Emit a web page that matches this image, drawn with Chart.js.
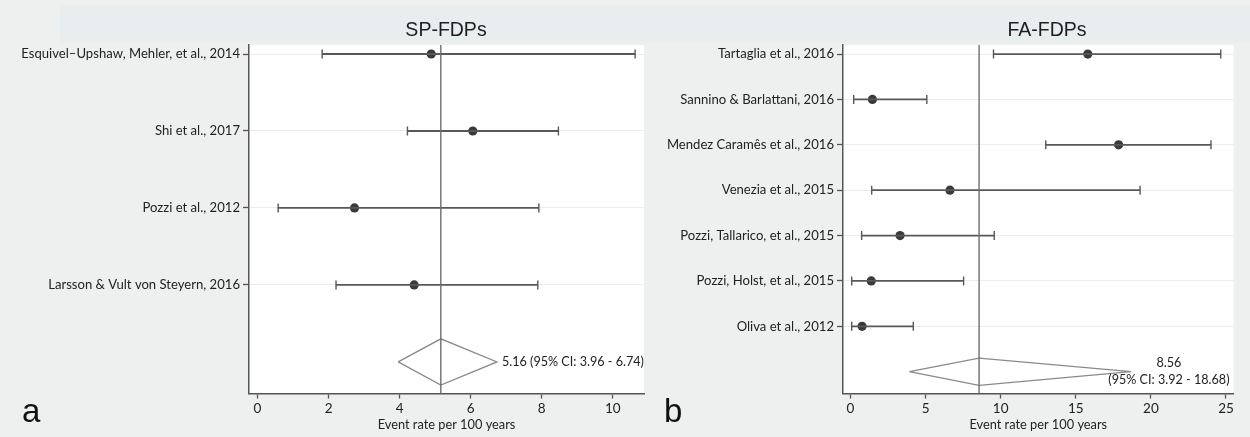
<!DOCTYPE html>
<html>
<head>
<meta charset="utf-8">
<script src="https://cdn.jsdelivr.net/npm/chart.js@4.4.1/dist/chart.umd.min.js"></script>
<style>
	body { margin: 0; background: #eeefef; width: 1250px; height: 437px; overflow: hidden; position: relative; }
	#band { position: absolute; left: 60px; top: 5px; width: 1190px; height: 37px; background: #e8eeef; }
	canvas { position: absolute; top: 0; }
	#sp { left: 0; }
	#fa { left: 650px; }
</style>
</head>
<body>
<div id="band"></div>
<canvas id="sp" width="650" height="437"></canvas>
<canvas id="fa" width="600" height="437"></canvas>
<script>
// panel a: SP-FDPs
const spStudies = [
	"Esquivel\u2013Upshaw, Mehler, et al., 2014",
	"Shi et al., 2017",
	"Pozzi et al., 2012",
	"Larsson & Vult von Steyern, 2016",
];
const spEst = [4.89, 6.06, 2.73, 4.41];
const spLo = [1.82, 4.22, 0.58, 2.21];
const spHi = [10.63, 8.47, 7.92, 7.89];
const spPooled = [5.16, 3.96, 6.74];
const spPooledText = ["5.16 (95% CI: 3.96 - 6.74)"];
const spTicks = [0, 2, 4, 6, 8, 10];

// panel b: FA-FDPs
const faStudies = [
	"Tartaglia et al., 2016",
	"Sannino & Barlattani, 2016",
	"Mendez Caram\u00eas et al., 2016",
	"Venezia et al., 2015",
	"Pozzi, Tallarico, et al., 2015",
	"Pozzi, Holst, et al., 2015",
	"Oliva et al., 2012",
];
const faEst = [15.8, 1.46, 17.85, 6.62, 3.3, 1.38, 0.77];
const faLo = [9.52, 0.21, 13.0, 1.41, 0.74, 0.08, 0.08];
const faHi = [24.65, 5.08, 24.0, 19.28, 9.57, 7.53, 4.18];
const faPooled = [8.56, 3.92, 18.68];
const faPooledText = ["8.56", "(95% CI: 3.92 - 18.68)"];
const faTicks = [0, 5, 10, 15, 20, 25];

const fontFamily = "Lato, 'Open Sans', sans-serif";
const labelFont = { family: fontFamily, size: 13.1 };

function makePanel(id, p) {
	const n = p.studies.length;
	const poolRow = n + 1;
	const [pe, pl, ph] = p.pooled;
	const datasets = [];

	// reference line at the pooled estimate
	datasets.push({
		data: [{ x: pe, y: p.yMin }, { x: pe, y: p.yMax }],
		showLine: true, borderColor: "#6e6e6e", borderWidth: 1.4, pointRadius: 0,
	});

	// confidence intervals with end caps
	p.studies.forEach((s, i) => {
		datasets.push({
			data: [{ x: p.lo[i], y: i + 1 }, { x: p.hi[i], y: i + 1 }],
			showLine: true,
			borderColor: "#585858",
			borderWidth: 1.8,
			pointStyle: "line",
			pointRotation: 90,
			pointRadius: 4.5,
			pointBorderColor: "#585858",
			pointBorderWidth: 1.4,
		});
	});

	// study estimates
	datasets.push({
		data: p.est.map((v, i) => ({ x: v, y: i + 1 })),
		pointRadius: 4.6,
		pointBackgroundColor: "#3a3a3a",
		pointBorderWidth: 0,
	});

	// pooled diamond
	datasets.push({
		data: [
			{ x: pl, y: poolRow },
			{ x: pe, y: poolRow - 0.3 },
			{ x: ph, y: poolRow },
			{ x: pe, y: poolRow + 0.3 },
			{ x: pl, y: poolRow },
		],
		showLine: true, borderColor: "#8a8a8a", borderWidth: 1.3, pointRadius: 0,
	});

	const decor = {
		id: "decor",
		beforeDraw(chart) {
			const { ctx, chartArea: a } = chart;
			ctx.save();
			ctx.fillStyle = "#ffffff";
			ctx.fillRect(a.left, a.top, a.right - a.left, a.bottom - a.top);
			ctx.restore();
		},
		afterDraw(chart) {
			const { ctx, chartArea: a } = chart;
			const xs = chart.scales.x;
			const ys = chart.scales.y;
			ctx.save();
			// panel title
			ctx.fillStyle = "#1e1e1e";
			ctx.font = "19.5px 'Liberation Sans', Arial, sans-serif";
			ctx.textAlign = "center";
			ctx.textBaseline = "alphabetic";
			ctx.fillText(p.title, p.titleX, 36);
			// panel letter
			ctx.font = "33px 'Liberation Sans', Arial, sans-serif";
			ctx.textAlign = "left";
			ctx.fillStyle = "#111";
			ctx.fillText(p.letter, p.letterX, 422);
			// pooled estimate text
			ctx.font = "12.6px " + fontFamily;
			ctx.fillStyle = "#222";
			ctx.textBaseline = "middle";
			const rowY = ys.getPixelForValue(poolRow);
			if (p.pooledText.length === 1) {
				ctx.textAlign = "left";
				ctx.fillText(p.pooledText[0], xs.getPixelForValue(ph) + 5, rowY);
			} else {
				const w = ctx.measureText(p.pooledText[1]).width;
				const cx = a.right - 4 - w / 2;
				ctx.textAlign = "center";
				ctx.fillText(p.pooledText[0], cx, rowY - 9);
				ctx.fillText(p.pooledText[1], cx, rowY + 8.5);
			}
			ctx.restore();
		},
	};

	return new Chart(document.getElementById(id), {
		type: "scatter",
		data: { datasets },
		plugins: [decor],
		options: {
			responsive: false,
			animation: false,
			events: [],
			layout: { padding: { top: 45, right: p.padRight, left: 0, bottom: 0 } },
			plugins: { legend: { display: false }, tooltip: { enabled: false } },
			scales: {
				x: {
					type: "linear",
					min: p.xMin,
					max: p.xMax,
					afterBuildTicks: (s) => { s.ticks = p.ticks.map((v) => ({ value: v })); },
					afterFit: (s) => { s.height = 43.5; },
					grid: { drawOnChartArea: false, tickLength: 5, tickColor: "#555", tickWidth: 1.3 },
					border: { color: "#555", width: 1.5 },
					ticks: { color: "#222", font: { family: fontFamily, size: 13.5 }, padding: 2, maxRotation: 0, autoSkip: false },
					title: {
						display: true,
						text: "Event rate per 100 years",
						color: "#222",
						font: { family: fontFamily, size: 12.8 },
						padding: { top: 0, bottom: 4 },
					},
				},
				y: {
					type: "linear",
					reverse: true,
					min: p.yMin,
					max: p.yMax,
					afterBuildTicks: (s) => { s.ticks = p.studies.map((_, i) => ({ value: i + 1 })); },
					afterFit: (s) => { s.width = p.yWidth; },
					grid: { color: "#ececec", lineWidth: 1, tickColor: "#555", tickLength: 6, tickWidth: 1.3 },
					border: { color: "#555", width: 1.5 },
					ticks: {
						callback: (v, i) => p.studies[i],
						color: "#222",
						font: labelFont,
						padding: 3,
						autoSkip: false,
					},
				},
			},
		},
	});
}

makePanel("sp", {
	title: "SP-FDPs", titleX: 446, letter: "a", letterX: 22,
	studies: spStudies, est: spEst, lo: spLo, hi: spHi,
	pooled: spPooled, pooledText: spPooledText, ticks: spTicks,
	xMin: -0.24, xMax: 10.88, yMin: 0.883, yMax: 5.41,
	yWidth: 249, padRight: 6,
});

makePanel("fa", {
	title: "FA-FDPs", titleX: 397, letter: "b", letterX: 14,
	studies: faStudies, est: faEst, lo: faLo, hi: faHi,
	pooled: faPooled, pooledText: faPooledText, ticks: faTicks,
	xMin: -0.5, xMax: 25.5, yMin: 0.8, yMax: 8.48,
	yWidth: 193, padRight: 16.5,
});
</script>
</body>
</html>
